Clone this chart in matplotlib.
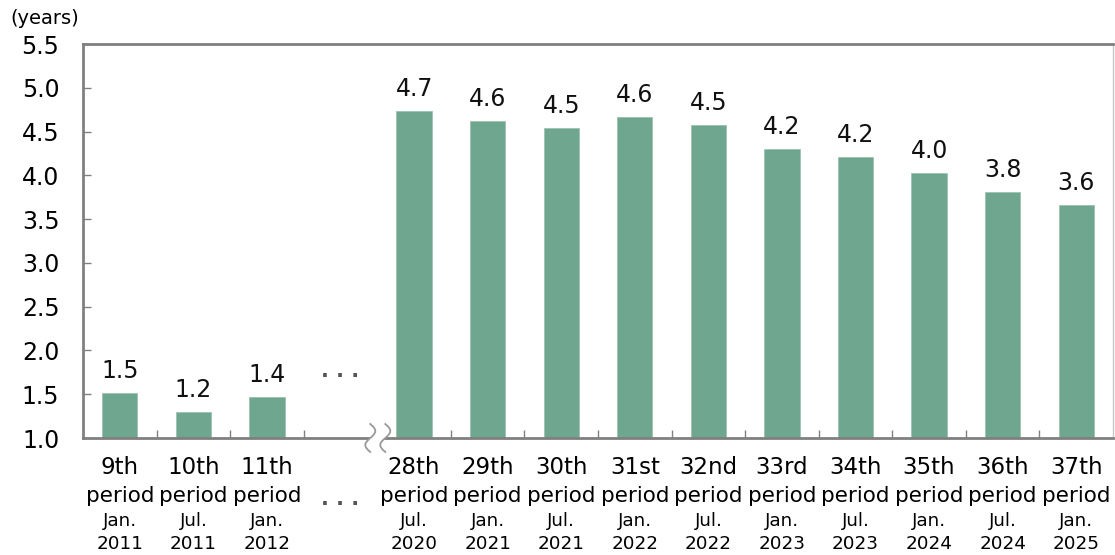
import numpy as np
import matplotlib
matplotlib.use("Agg")
import matplotlib.pyplot as plt
from matplotlib.transforms import blended_transform_factory

# ---- data ----
periods = ["9th", "10th", "11th", "28th", "29th", "30th", "31st", "32nd",
           "33rd", "34th", "35th", "36th", "37th"]
months = ["Jan.", "Jul.", "Jan.", "Jul.", "Jan.", "Jul.", "Jan.", "Jul.",
          "Jan.", "Jul.", "Jan.", "Jul.", "Jan."]
years = ["2011", "2011", "2012", "2020", "2021", "2021", "2022", "2022",
         "2023", "2023", "2024", "2024", "2025"]
values = [1.51, 1.30, 1.47, 4.73, 4.62, 4.54, 4.67, 4.58,
          4.30, 4.21, 4.03, 3.81, 3.66]
value_labels = ["1.5", "1.2", "1.4", "4.7", "4.6", "4.5", "4.6", "4.5",
                "4.2", "4.2", "4.0", "3.8", "3.6"]
y_ticks = [1.0, 1.5, 2.0, 2.5, 3.0, 3.5, 4.0, 4.5, 5.0, 5.5]

gap_slot = 3
pos = [i if i < gap_slot else i + 1 for i in range(len(periods))]
nslots = len(periods) + 1

bar_color = "#6ea68f"
axis_gray = "#808080"

fig = plt.figure(figsize=(11.15, 5.55), dpi=100)
ax = fig.add_axes([83 / 1115, 117 / 555, 1030 / 1115, 394 / 555])

ax.bar(pos, [v - 1.0 for v in values], bottom=1.0, width=0.48,
       color=bar_color, edgecolor="#9cc3b1", linewidth=0.6, zorder=2)

ax.set_xlim(-0.5, nslots - 0.5)
ax.set_ylim(1.0, 5.5)
ax.set_yticks(y_ticks)
ax.set_yticklabels([f"{t:.1f}" for t in y_ticks], fontsize=17)
ax.tick_params(axis="y", direction="in", length=6, width=1, color=axis_gray,
               pad=17, labelcolor="black")
ax.set_xticks([])
ax.set_xticks(np.arange(0.5, nslots - 1, 1.0), minor=True)
ax.tick_params(axis="x", which="minor", direction="in", length=6, width=1,
               color=axis_gray)
ax.tick_params(axis="x", which="major", length=0)

for s in ["left", "bottom", "top"]:
    ax.spines[s].set_color(axis_gray)
    ax.spines[s].set_linewidth(2)
ax.spines["right"].set_color("#c8c8c8")
ax.spines["right"].set_linewidth(1)

# value labels
for p, v, lab in zip(pos, values, value_labels):
    ax.annotate(lab, xy=(p, v), xytext=(0, 15), textcoords="offset pixels",
                ha="center", va="baseline", fontsize=17, color="#111111")

# category labels
bt = blended_transform_factory(ax.transData, ax.transAxes)
for p, per, m, yr in zip(pos, periods, months, years):
    ax.annotate(per, xy=(p, 0), xycoords=bt, xytext=(0, -30),
                textcoords="offset pixels", ha="center", va="center",
                fontsize=16.5, annotation_clip=False)
    ax.annotate("period", xy=(p, 0), xycoords=bt, xytext=(0, -58),
                textcoords="offset pixels", ha="center", va="center",
                fontsize=15.5, annotation_clip=False)
    ax.annotate(m, xy=(p, 0), xycoords=bt, xytext=(0, -83),
                textcoords="offset pixels", ha="center", va="center",
                fontsize=13.2, annotation_clip=False)
    ax.annotate(yr, xy=(p, 0), xycoords=bt, xytext=(0, -106),
                textcoords="offset pixels", ha="center", va="center",
                fontsize=13.2, annotation_clip=False)

# ellipses in the gap slot
ax.annotate(". . .", xy=(gap_slot, 1.0), xycoords="data", xytext=(0, 61),
            textcoords="offset pixels", ha="center", va="baseline",
            fontsize=15, color="#555555", fontweight="bold",
            annotation_clip=False)
ax.annotate(". . .", xy=(gap_slot, 0), xycoords=bt, xytext=(0, -67),
            textcoords="offset pixels", ha="center", va="baseline",
            fontsize=15, color="#555555", fontweight="bold",
            annotation_clip=False)

# axis break mark
px = 1.0 / (1030 / nslots)          # data units per pixel (x)
py = 1.0 / 394                       # axes fraction per pixel (y)
t = np.linspace(0, 1, 60)
yy = (14 - 28 * t) * py
cx = gap_slot + 0.5
left_x = cx - 7 * px + 5 * px * np.sin(2 * np.pi * t)
right_x = cx + 8 * px + 5 * px * np.sin(2 * np.pi * t)
ax.fill(np.concatenate([left_x, right_x[::-1]]),
        np.concatenate([yy, yy[::-1]]), color="white", transform=bt,
        clip_on=False, zorder=5, lw=0)
for xs in (left_x, right_x):
    ax.plot(xs, yy, color="#999999", lw=1.3, transform=bt, clip_on=False,
            zorder=6)

fig.text(10 / 1115, 1 - 18 / 555, "(years)", fontsize=14, ha="left",
         va="center")

fig.savefig("out.png", dpi=100)
